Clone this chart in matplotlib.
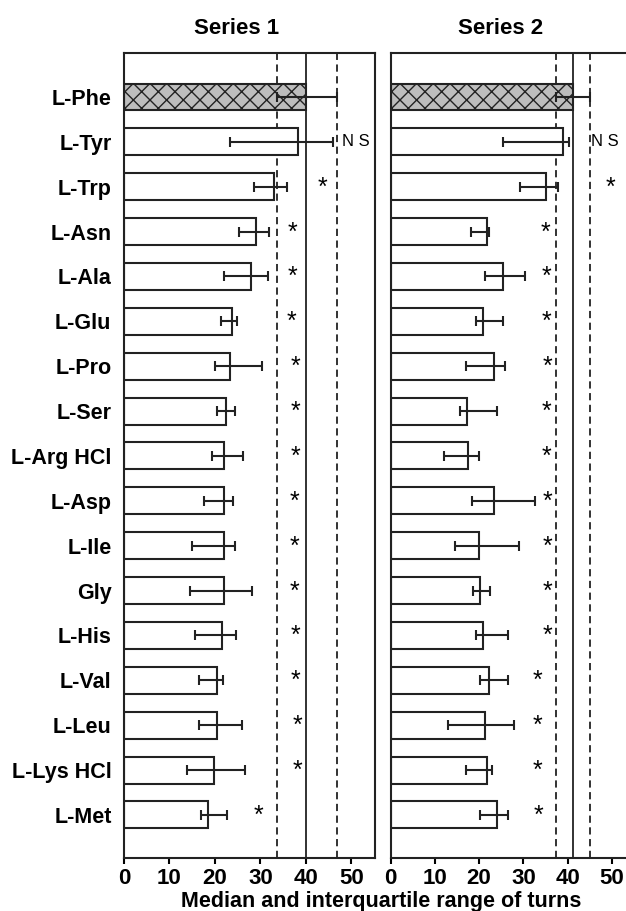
import numpy as np
import matplotlib
matplotlib.use('Agg')
import matplotlib.pyplot as plt

plt.rcParams['font.family'] = ['Liberation Sans', 'DejaVu Sans']
plt.rcParams['hatch.linewidth'] = 1.0
plt.rcParams['hatch.color'] = '#333333'

# ---------------- data ----------------
labels = ['L-Phe', 'L-Tyr', 'L-Trp', 'L-Asn', 'L-Ala', 'L-Glu', 'L-Pro', 'L-Ser',
          'L-Arg HCl', 'L-Asp', 'L-Ile', 'Gly', 'L-His', 'L-Val', 'L-Leu',
          'L-Lys HCl', 'L-Met']

# Series 1: median, lower quartile, upper quartile
s1_med = [40.0, 38.2, 33.0, 29.0, 27.9, 23.8, 23.4, 22.5, 22.1, 22.1, 22.1, 22.1,
          21.5, 20.4, 20.4, 19.8, 18.4]
s1_lo = [33.6, 23.3, 28.6, 25.3, 22.0, 21.3, 20.0, 20.4, 19.3, 17.6, 14.9, 14.6,
         15.6, 16.5, 16.4, 13.8, 16.9]
s1_hi = [46.9, 46.0, 35.8, 31.9, 31.6, 24.8, 30.3, 24.5, 26.2, 23.9, 24.5, 28.2,
         24.6, 21.8, 25.9, 26.7, 22.6]
s1_sig = ['', 'N S', '*', '*', '*', '*', '*', '*', '*', '*', '*', '*', '*', '*', '*', '*', '*']
s1_sig_x = [0, 48.0, 42.6, 36.0, 36.0, 35.8, 36.6, 36.6, 36.6, 36.5, 36.5, 36.5,
            36.7, 36.7, 37.1, 37.1, 28.6]
s1_ref = [33.6, 40.0, 46.9]  # control lower quartile, median, upper quartile

# Series 2
s2_med = [41.3, 39.0, 35.2, 21.7, 25.4, 20.9, 23.4, 17.2, 17.4, 23.4, 19.9, 20.2,
          20.9, 22.3, 21.3, 21.7, 24.1]
s2_lo = [37.4, 25.3, 29.2, 18.1, 21.3, 19.2, 17.0, 15.7, 12.1, 18.4, 14.6, 18.7,
         19.2, 20.2, 12.9, 17.0, 20.2]
s2_hi = [45.1, 40.4, 37.9, 22.3, 30.3, 25.4, 25.8, 24.1, 19.9, 32.7, 28.9, 22.4,
         26.5, 26.5, 27.9, 23.0, 26.5]
s2_sig = ['', 'N S', '*', '*', '*', '*', '*', '*', '*', '*', '*', '*', '*', '*', '*', '*', '*']
s2_sig_x = [0, 45.3, 48.5, 33.8, 34.2, 34.0, 34.4, 34.0, 34.0, 34.4, 34.4, 34.4,
            34.4, 32.0, 32.0, 32.0, 32.3]
s2_ref = [37.4, 41.3, 45.1]

xticks = [0, 10, 20, 30, 40, 50]


def panel(ax, med, lo, hi, sig, sig_x, ref, xmax):
    y = np.arange(len(labels))
    med = np.array(med)
    err = [med - np.array(lo), np.array(hi) - med]
    colors = ['#bdbdbd'] + ['white'] * (len(labels) - 1)
    hatches = ['xx'] + [''] * (len(labels) - 1)
    bars = ax.barh(y, med, height=0.6, color=colors, edgecolor='#222222',
                   linewidth=1.5, zorder=2)
    for b, h in zip(bars, hatches):
        b.set_hatch(h)
    ax.errorbar(med, y, xerr=err, fmt='none', ecolor='#222222', elinewidth=1.5,
                capsize=3.5, capthick=1.5, zorder=3)
    ax.axvline(ref[0], color='#222222', lw=1.3, ls=(0, (4, 2.5)), zorder=1)
    ax.axvline(ref[1], color='#222222', lw=1.3, zorder=1)
    ax.axvline(ref[2], color='#222222', lw=1.3, ls=(0, (4, 2.5)), zorder=1)
    for yi, s, sx in zip(y, sig, sig_x):
        if s == '*':
            ax.text(sx, yi + 0.02, s, fontsize=18, ha='left', va='center', zorder=4)
        elif s:
            ax.text(sx, yi, s, fontsize=12, ha='left', va='center', zorder=4)
    ax.set_xlim(0, xmax)
    ax.set_ylim(16.96, -0.98)
    ax.set_xticks(xticks)
    ax.tick_params(axis='x', direction='out', length=4, width=1.5, pad=3,
                   labelsize=16)
    ax.tick_params(axis='y', length=0)
    for lab in ax.get_xticklabels():
        lab.set_fontweight('bold')
    for sp in ax.spines.values():
        sp.set_linewidth(1.5)
        sp.set_color('#222222')


fig = plt.figure(figsize=(6.26, 9.11), dpi=100)
W, H = 626.0, 911.0

ax1 = fig.add_axes([124 / W, 53 / H, 251 / W, 805 / H])
panel(ax1, s1_med, s1_lo, s1_hi, s1_sig, s1_sig_x, s1_ref, 55.2)
ax1.set_yticks(np.arange(len(labels)))
ax1.set_yticklabels(labels, fontsize=15.5, fontweight='bold')
ax1.tick_params(axis='y', pad=9)

ax2 = fig.add_axes([390.5 / W, 53 / H, 55.2 * 4.43 / W, 805 / H])
panel(ax2, s2_med, s2_lo, s2_hi, s2_sig, s2_sig_x, s2_ref, 55.2)
ax2.set_yticks([])

fig.text(236.7 / W, 1 - 28 / H, 'Series 1', fontsize=16, fontweight='bold',
         ha='center', va='center')
fig.text(501 / W, 1 - 28 / H, 'Series 2', fontsize=16, fontweight='bold',
         ha='center', va='center')
fig.text(381.5 / W, 1 - 907 / H, 'Median and interquartile range of turns',
         fontsize=15.5, fontweight='bold', ha='center', va='baseline')

fig.savefig('out.png', dpi=100)
